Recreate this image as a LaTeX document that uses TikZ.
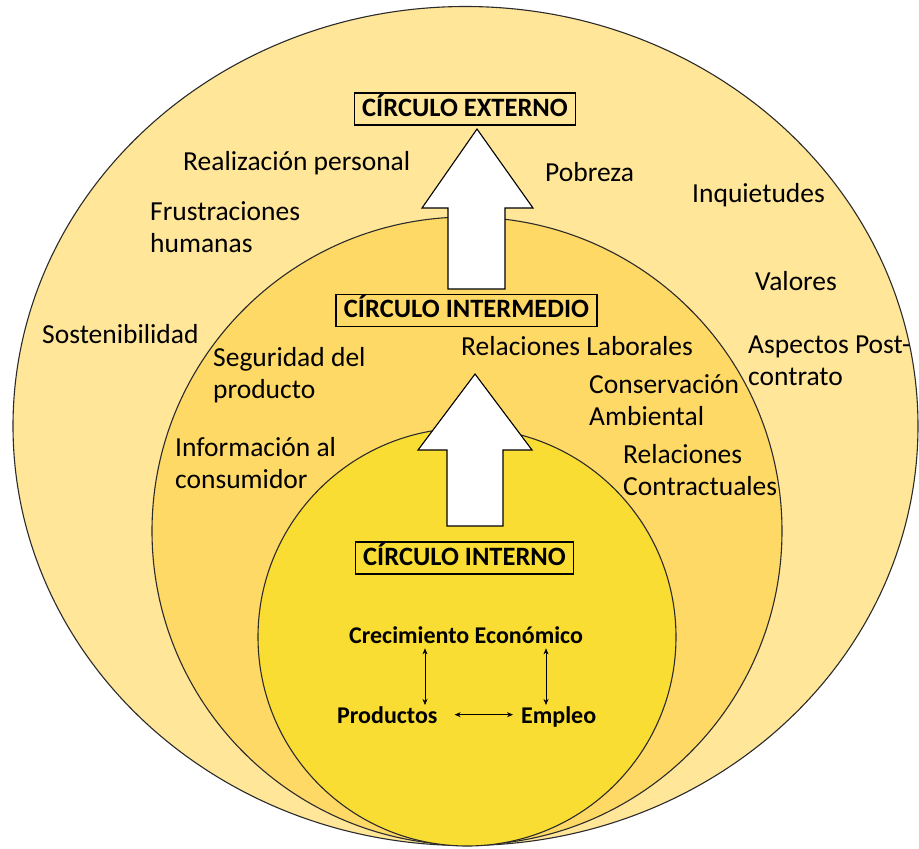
\documentclass[tikz,border=0pt]{standalone}
\usepackage{fontspec}
\setmainfont{Carlito}
\usetikzlibrary{arrows.meta}
\definecolor{outerc}{HTML}{FFE699}
\definecolor{midc}{HTML}{FFD966}
\definecolor{innerc}{HTML}{FADD32}
\definecolor{edgec}{HTML}{2B2B2B}
\tikzset{
  ring/.style={draw=edgec, line width=1.1pt},
  lab/.style={anchor=base west, inner sep=0pt, align=left, font=\fontsize{27.5}{32}\selectfont},
  ttl/.style={draw=black, line width=1.2pt, inner xsep=8pt, inner ysep=4pt, text height=19pt, text depth=5pt, font=\fontsize{26.5}{32}\selectfont\bfseries},
  sm/.style={anchor=base west, inner sep=0pt, font=\fontsize{24}{28}\selectfont\bfseries},
  blockarrow/.style={draw=black, line width=1.1pt, fill=white, line join=miter},
  dbl/.style={{Stealth[length=6pt,width=5pt]}-{Stealth[length=6pt,width=5pt]}, line width=0.6pt}
}
\begin{document}
\begin{tikzpicture}[x=1pt,y=-1pt]
\useasboundingbox (0,0) rectangle (919,849);
% circles
\draw[ring, fill=outerc] (465.5,426) ellipse [x radius=452.5, y radius=419.5];
\draw[ring, fill=midc] (467,531) ellipse [x radius=315, y radius=314];
\draw[ring, fill=innerc] (467,637) ellipse [x radius=209, y radius=209];
% block arrows
\draw[blockarrow] (448,289) -- (448,208) -- (422,208) -- (477,129) -- (533,208) -- (505,208) -- (505,289) -- cycle;
\draw[blockarrow] (447,526) -- (447,450) -- (418,450) -- (475,374) -- (532,450) -- (503,450) -- (503,526) -- cycle;
% titles
\node[ttl] (ext) at (465,109) {CÍRCULO EXTERNO};
\node[ttl] (intm) at (466.5,310.5) {CÍRCULO INTERMEDIO};
\node[ttl] (intn) at (464.5,558) {CÍRCULO INTERNO};
% outer labels (multi-line nodes: base = last line baseline)
\node[lab] (real) at (183,170) {Realización personal};
\node[lab] (frus) at (150,252) {Frustraciones\\humanas};
\node[lab] (sost) at (42,343) {Sostenibilidad};
\node[lab] (pobr) at (545,181) {Pobreza};
\node[lab] (inqu) at (692,202) {Inquietudes};
\node[lab] (valo) at (755,290) {Valores};
\node[lab] (aspe) at (748,385) {Aspectos Post-\\contrato};
% middle labels
\node[lab] (segu) at (213,398) {Seguridad del\\producto};
\node[lab] (info) at (175,488) {Información al\\consumidor};
\node[lab] (rlab) at (461,355) {Relaciones Laborales};
\node[lab] (cons) at (589,425) {Conservación\\Ambiental};
\node[lab] (rcon) at (623,495) {Relaciones\\Contractuales};
% inner labels
\node[sm] (cre) at (349,643) {Crecimiento Económico};
\node[sm] (prod) at (337,723) {Productos};
\node[sm] (emp) at (521,723) {Empleo};
\coordinate (xL) at (425,0);
\coordinate (xR) at (546,0);
\draw[dbl, shorten <=5pt, shorten >=1pt] (xL |- cre.south) -- (xL |- prod.north);
\draw[dbl, shorten <=5pt, shorten >=1pt] (xR |- cre.south) -- (xR |- emp.north);
\draw[dbl, shorten <=17pt, shorten >=8pt] (prod.east) -- (prod.east -| emp.west);
\end{tikzpicture}
\end{document}
